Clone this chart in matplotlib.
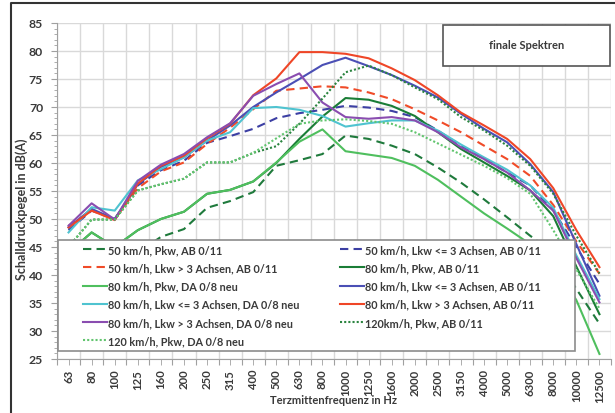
import numpy as np
import matplotlib
matplotlib.use("Agg")
import matplotlib.pyplot as plt
from matplotlib.patches import Rectangle
from matplotlib.lines import Line2D

# Terzband centre frequencies (category axis)
freqs = ['63', '80', '100', '125', '160', '200', '250', '315', '400', '500', '630', '800',
         '1000', '1250', '1600', '2000', '2500', '3150', '4000', '5000', '6300', '8000',
         '10000', '12500']

# Levels in dB(A)
pkw50_ab = [40.0, 42.0, 41.5, 44.0, 46.8, 48.2, 52.0, 53.2, 54.8, 59.5, 60.5, 61.6,
            64.9, 64.3, 63.1, 61.6, 59.2, 56.5, 53.5, 50.3, 47.0, 44.0, 37.5, 31.3]
lkw3_50_ab = [48.0, 51.5, 50.0, 56.0, 58.7, 60.4, 63.6, 64.8, 66.1, 68.0, 68.9, 69.5,
              70.2, 69.9, 69.3, 68.2, 65.8, 63.1, 60.7, 58.3, 56.0, 51.5, 45.0, 38.4]
lkwg3_50_ab = [48.8, 51.5, 50.0, 55.5, 58.5, 60.1, 63.4, 66.3, 69.6, 72.9, 73.3, 73.7,
               73.5, 72.6, 71.4, 69.6, 67.6, 65.5, 63.1, 60.7, 57.7, 52.5, 46.0, 40.2]
pkw80_ab = [44.0, 47.6, 45.0, 48.0, 50.0, 51.3, 54.5, 55.2, 56.7, 60.0, 64.3, 68.3,
            71.6, 71.3, 70.2, 68.4, 65.5, 62.5, 60.1, 57.7, 55.1, 50.5, 41.5, 33.0]
pkw80_da = [44.0, 47.6, 45.0, 48.0, 50.0, 51.3, 54.5, 55.2, 56.7, 60.1, 63.8, 66.0,
            62.1, 61.5, 60.9, 59.5, 57.0, 54.0, 51.0, 48.3, 45.5, 42.5, 35.5, 25.9]
lkw3_80_ab = [48.5, 51.8, 50.0, 56.2, 59.3, 61.0, 64.0, 66.7, 70.0, 72.6, 75.0, 77.5,
              78.8, 77.3, 75.7, 73.8, 71.7, 68.8, 66.1, 63.7, 59.8, 54.8, 45.5, 36.3]
lkw3_80_da = [47.6, 52.1, 51.5, 56.9, 58.9, 61.0, 64.0, 65.5, 69.8, 70.0, 69.5, 68.4,
              66.5, 67.1, 67.6, 67.6, 65.8, 63.3, 61.0, 58.8, 56.0, 52.0, 43.5, 35.7]
lkwg3_80_ab = [48.5, 51.5, 49.8, 56.3, 59.5, 61.3, 64.4, 67.0, 72.1, 75.1, 79.8, 79.8,
               79.5, 78.7, 76.9, 74.8, 72.1, 69.0, 66.7, 64.3, 60.7, 55.5, 48.0, 41.4]
lkwg3_80_da = [48.8, 52.8, 49.9, 56.8, 59.7, 61.6, 64.6, 67.1, 72.0, 74.1, 76.0, 70.8,
               68.2, 67.9, 68.2, 67.6, 65.5, 62.8, 60.7, 58.3, 55.1, 51.5, 43.0, 35.1]
pkw120_ab = [45.0, 49.9, 49.9, 55.1, 56.2, 57.2, 60.1, 60.1, 61.8, 63.0, 67.0, 71.5,
             76.2, 77.4, 75.7, 73.5, 71.4, 68.2, 65.8, 63.1, 59.5, 54.5, 47.0, 40.3]
pkw120_da = [45.0, 49.9, 49.9, 55.1, 56.2, 57.2, 60.1, 60.1, 61.8, 64.4, 67.0, 67.6,
             67.8, 67.5, 67.0, 65.5, 63.5, 61.5, 59.5, 57.3, 54.5, 48.0, 41.0, 34.0]

labels = ['50 km/h, Pkw, AB 0/11',
          '50 km/h, Lkw <= 3 Achsen, AB 0/11',
          '50 km/h, Lkw > 3 Achsen, AB 0/11',
          '80 km/h, Pkw, AB 0/11',
          '80 km/h, Pkw, DA 0/8 neu',
          '80 km/h, Lkw <= 3 Achsen, AB 0/11',
          '80 km/h, Lkw <= 3 Achsen, DA 0/8 neu',
          '80 km/h, Lkw > 3 Achsen, AB 0/11',
          '80 km/h, Lkw > 3 Achsen, DA 0/8 neu',
          '120km/h, Pkw, AB 0/11',
          '120 km/h, Pkw, DA 0/8 neu']

series = [pkw50_ab, lkw3_50_ab, lkwg3_50_ab, pkw80_ab, pkw80_da, lkw3_80_ab,
          lkw3_80_da, lkwg3_80_ab, lkwg3_80_da, pkw120_ab, pkw120_da]

dash = (0, (4, 2.5))
dot = (0, (1, 1))
styles = [('#1f7a3c', dash), ('#3c3fa3', dash), ('#f04b28', dash),
          ('#1a7d36', '-'), ('#4fbf5e', '-'), ('#4b4fb5', '-'), ('#4fc3d0', '-'),
          ('#ef4627', '-'), ('#8a4db0', '-'), ('#2b8440', dot), ('#62c56f', dot)]

FONT = 'Lato'
TXT = '#3a3a3a'

fig = plt.figure(figsize=(6.15, 4.14), dpi=100)
W, H = 615, 414
ax = fig.add_axes([57 / W, 1 - 360 / H, (611 - 57) / W, 336 / H])

x = np.arange(len(freqs))
handles = []
for y, lab, (c, ls) in zip(series, labels, styles):
    h, = ax.plot(x, y, color=c, ls=ls, lw=1.5, label=lab, zorder=2)
    handles.append(h)

ax.set_xlim(-0.5, len(freqs) - 0.5)
ax.set_ylim(25, 85)
ax.set_xticks(np.arange(-0.5, len(freqs), 1.0))
ax.set_xticklabels([])
ax.set_xticks(x, minor=True)
ax.set_xticklabels(freqs, minor=True, rotation=90, family=FONT, weight='bold',
                   fontsize=8.2, color=TXT)
ax.set_yticks(np.arange(25, 86, 5))
ax.set_yticks(np.arange(25, 86, 1), minor=True)
for t in ax.get_yticklabels():
    t.set_family(FONT)
    t.set_weight('bold')
    t.set_fontsize(8.8)
    t.set_color(TXT)

ax.tick_params(axis='both', which='both', colors='#a0a0a0', labelcolor=TXT)
ax.tick_params(axis='x', which='major', length=4)
ax.tick_params(axis='x', which='minor', length=4, pad=3)
ax.tick_params(axis='y', which='major', length=4, pad=6)
ax.tick_params(axis='y', which='minor', length=2.5)

ax.grid(True, which='major', color='#d9d9d9', lw=1.0)
ax.set_axisbelow(True)
for s in ['top', 'right']:
    ax.spines[s].set_visible(False)
for s in ['left', 'bottom']:
    ax.spines[s].set_color('#a0a0a0')

# legend box, then two columns as in the Excel legend
ax.add_patch(Rectangle(((58 - 57) / 554, (360 - 352) / 336), (575 - 58) / 554,
                       (352 - 241) / 336, transform=ax.transAxes, facecolor='white',
                       edgecolor='#8c8c8c', lw=1.2, zorder=4))
prop = dict(family=FONT, weight='bold', size=7.8)
leg_kw = dict(loc='upper left', frameon=False, prop=prop, handlelength=2.2,
              handletextpad=0.1, labelspacing=0.67, borderpad=0, borderaxespad=0)
leg1 = ax.legend(handles=handles[0::2], bbox_to_anchor=(26 / 554, (360 - 245) / 336), **leg_kw)
for t in leg1.get_texts():
    t.set_color(TXT)
leg1.set_zorder(5)
ax.add_artist(leg1)
leg2 = ax.legend(handles=handles[1::2], bbox_to_anchor=(283 / 554, (360 - 245) / 336), **leg_kw)
for t in leg2.get_texts():
    t.set_color(TXT)
leg2.set_zorder(5)

# "finale Spektren" box
ax.add_patch(Rectangle(((443 - 57) / 554, (360 - 67) / 336), (610 - 443) / 554,
                       (67 - 26) / 336, transform=ax.transAxes, facecolor='white',
                       edgecolor='#555555', lw=1.2, zorder=4))
ax.text((527 - 57) / 554, (360 - 46) / 336, 'finale Spektren', transform=ax.transAxes,
        ha='center', va='center', family=FONT, weight='bold', fontsize=8, color=TXT, zorder=5)

fig.text(22 / W, 1 - 209 / H, 'Schalldruckpegel in dB(A)', rotation=90, ha='center',
         va='center', family=FONT, weight='bold', fontsize=9, color=TXT)
fig.text(334 / W, 1 - 401 / H, 'Terzmittenfrequenz in Hz', ha='center', va='center',
         family=FONT, weight='bold', fontsize=8, color=TXT)

# outer frame (top and left edges visible in the screenshot)
fig.add_artist(Line2D([11 / W, 11 / W, 1.0], [0.0, 1 - 4 / H, 1 - 4 / H],
                      transform=fig.transFigure, color='#333333', lw=1.5))

fig.savefig('out.png', dpi=100)
